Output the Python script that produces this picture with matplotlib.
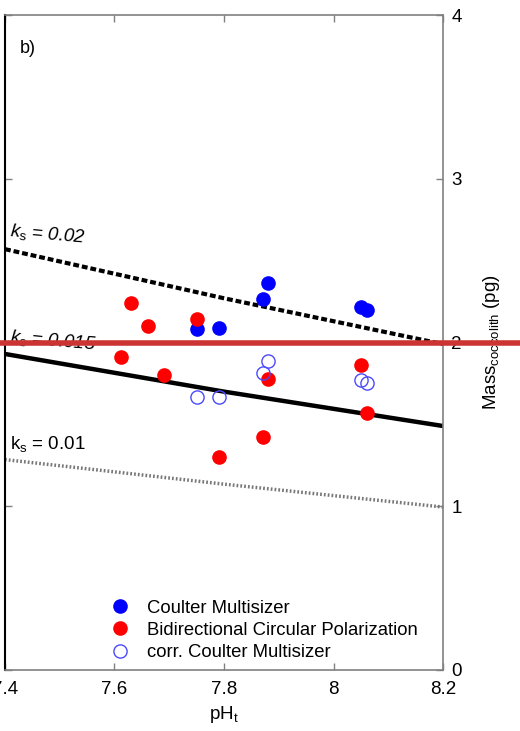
import numpy as np
import matplotlib
matplotlib.use("Agg")
import matplotlib.pyplot as plt

plt.rcParams['font.family'] = ['Liberation Sans', 'DejaVu Sans']
plt.rcParams['mathtext.fontset'] = 'custom'
plt.rcParams['mathtext.rm'] = 'Liberation Sans'
plt.rcParams['mathtext.it'] = 'Liberation Sans:italic'

# data
ph_coulter = [7.751, 7.791, 7.871, 7.880, 8.050, 8.061]
mass_coulter = [2.083, 2.089, 2.266, 2.363, 2.217, 2.198]

ph_bcp = [7.611, 7.631, 7.661, 7.690, 7.750, 7.790, 7.872, 7.880, 8.050, 8.061]
mass_bcp = [1.913, 2.243, 2.101, 1.800, 2.142, 1.303, 1.421, 1.779, 1.865, 1.567]

ph_corr = [7.750, 7.790, 7.871, 7.880, 8.050, 8.061]
mass_corr = [1.665, 1.665, 1.816, 1.885, 1.771, 1.755]

# model lines for ks
ph_line = [7.4, 7.8, 8.2]
mass_ks002 = [2.57, 2.27, 1.99]
mass_ks0015 = [1.93, 1.70, 1.49]
mass_ks001 = [1.285, 1.135, 0.995]

xticks = [7.4, 7.6, 7.8, 8.0, 8.2]
xticklabels = ['7.4', '7.6', '7.8', '8', '8.2']
yticks = [0, 1, 2, 3, 4]

fig = plt.figure(figsize=(5.2, 7.31), dpi=100)
ax = fig.add_axes([5/520, 1-670/731, 438/520, 655/731])

ax.plot(ph_line, mass_ks002, color='black', lw=3, linestyle=(0, (1.4, 0.7)))
ax.plot(ph_line, mass_ks0015, color='black', lw=3.2, linestyle='-')
ax.plot(ph_line, mass_ks001, color='#777777', lw=2.5, linestyle=(0, (0.5, 0.6)))

ax.plot(ph_coulter, mass_coulter, 'o', color='#0000ff', ms=9.5, mec='#0000ff',
        label='Coulter Multisizer')
ax.plot(ph_bcp, mass_bcp, 'o', color='#ff0000', ms=9.5, mec='#ff0000',
        label='Bidirectional Circular Polarization')
ax.plot(ph_corr, mass_corr, 'o', mfc='none', mec='#4a4aff', ms=9.5, mew=1.0,
        label='corr. Coulter Multisizer')

ax.text(7.409, 2.65, r'$\mathit{k}_\mathrm{s}$ = 0.02', fontsize=13.5, style='italic',
        rotation=-5, rotation_mode='anchor', ha='left', va='baseline')
ax.text(7.409, 2.003, r'$\mathit{k}_\mathrm{s}$ = 0.015', fontsize=13.5, style='italic',
        rotation=-5, rotation_mode='anchor', ha='left', va='baseline')
ax.text(7.409, 1.35, r'k$_\mathrm{s}$ = 0.01', fontsize=13.5,
        ha='left', va='baseline')
ax.text(7.427, 3.768, 'b)', fontsize=13, ha='left', va='baseline')

ax.set_xlim(7.4, 8.2)
ax.set_ylim(0, 4)
ax.set_xticks(xticks)
ax.set_xticklabels(xticklabels)
ax.set_yticks(yticks)
ax.yaxis.tick_right()
ax.yaxis.set_label_position('right')
ax.tick_params(axis='both', direction='in', length=5, width=1, color='#808080',
               labelsize=13.5, top=True, left=True, right=True)
ax.tick_params(axis='y', pad=6)
ax.tick_params(axis='x', pad=8)

for side in ['top', 'right', 'bottom']:
    ax.spines[side].set_color('#808080')
    ax.spines[side].set_linewidth(1.2)
ax.spines['left'].set_color('black')
ax.spines['left'].set_linewidth(1.5)

ax.set_xlabel(r'pH$_\mathrm{t}$', fontsize=13.5, labelpad=4)
ax.set_ylabel(r'Mass$_\mathrm{coccolith}$ (pg)', fontsize=13.5, labelpad=14)

ax.legend(loc='lower left', bbox_to_anchor=(0.2, -0.012), frameon=False, fontsize=13.3,
          handletextpad=0.87, labelspacing=0.29, handlelength=1.2, markerscale=1.0)

# red horizontal marker line across the whole figure
ax.axhline(2, xmin=-5/438, xmax=515/438, color='#cc3333', lw=4, clip_on=False, zorder=10)

fig.savefig('out.png', dpi=100)
